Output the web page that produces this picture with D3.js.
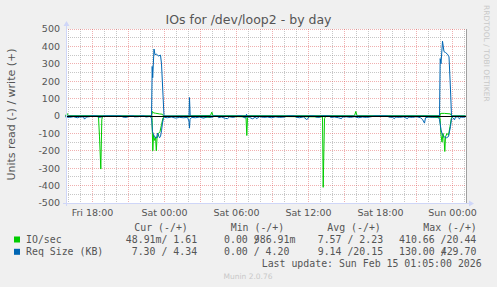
<!DOCTYPE html>
<html>
<head>
<meta charset="utf-8">
<script src="https://cdn.jsdelivr.net/npm/d3@7"></script>
<style>
    html, body { margin: 0; padding: 0; background: #f0f0f0; }
    svg { display: block; }
</style>
</head>
<body>
<div id="chart"></div>
<script>
// Times are 5-minute slots relative to Sat 00:00 (munin day graph: one slot per pixel)
const ioRead = [[-99,-2],[-70,-1],[-66,-5],[-65,-120],[-63.7,-305],[-62.7,-20],[-62,-3],[-40,-2],[-13,-3],
    [-12.5,-10],[-11.7,-200],[-11,-110],[-10,-140],[-9,-120],[-8.2,-200],[-7.5,-130],[-6,-100],[-4.5,-90],
    [-3,-50],[-1.5,-10],[0,-3],[25,-5],[26,-1],[46,-8],[47,-1],[81.5,-5],[82.3,-112],[83,-10],[84,-2],
    [158,-5],[158.7,-410],[160,-15],[161,-3],[260,-3],[275.5,-10],[276.5,-110],[277.5,-150],[278.5,-100],
    [279.5,-130],[280.3,-204],[281,-120],[282.5,-100],[284,-110],[285.5,-60],[287,-10],[288,-2],[301,-2]];

const ioWrite = [[-99,1],[-97.5,15],[-96,2],[-13,1],[-12,26],[-11,18],[-9,16],[-5,12],[-2,10],[-1,0],
    [46,3],[47.3,22],[48.5,2],[190,2],[191.3,26],[192.5,2],[275.5,2],[276,15],[280,15],[286,12],[287,1],[301,1.6]];

const reqRead = [[-99,-5],[-95,-8],[-91,-4],[-87,-10],[-85,-6],[-81,-5],[-80,-18],[-78,-6],[-75,-4],[-73,0],
    [-67,0],[-66,-8],[-63,-6],[-61,0],[-43,0],[-42,-6],[-38,-8],[-35,0],[-31,0],[-30,-5],[-26,-4],[-24,0],
    [-20,0],[-19,-6],[-15,-3],[-13,-10],[-12,-90],[-10,-120],[-8,-127],[-7,-98],[-5,-125],[-4,-118],[-3,-85],
    [-2,-40],[-1,-12],[0,-8],[3,-10],[7,-6],[11,-12],[15,-8],[19,-10],[23,-8],[24.5,-30],[25,-70],[25.5,-20],
    [27,-8],[31,-10],[35,-6],[39,-12],[43,-5],[47,-8],[49,-4],[50,0],[53,0],[54,-10],[57,-6],[61,-14],[63,-15],
    [65,-5],[69,-8],[73,0],[77,0],[78,-4],[81,-12],[82,-3],[85,-8],[88,-16],[91,-6],[92,-15],[95,-4],[99,-8],
    [103,-6],[107,-10],[111,-5],[115,-8],[120,-6],[123,0],[130,0],[131,-6],[135,-10],[139,-5],[142,-20],
    [143,-18],[145,0],[150,0],[151,-6],[155,-8],[157,0],[165,0],[166,-8],[170,-6],[174,-10],[177,-15],
    [178,-6],[182,-5],[186,-8],[190,-4],[194,-10],[198,-6],[202,-8],[206,-5],[210,0],[223,0],[224,-6],
    [228,-8],[230,-15],[231,-6],[235,-8],[239,-5],[243,-15],[244,-6],[248,-8],[252,-4],[256,-10],[258,-20],
    [260,-41],[261,-10],[264,-6],[268,-8],[272,-5],[274,-8],[275,-20],[276.5,-80],[278,-110],[280,-120],
    [282,-125],[284,-118],[286,-60],[287,-15],[288,-8],[290,-22],[291,-6],[293,-5],[295,-16],[296,-6],
    [299,-8],[301,-5]];

const reqWrite = [[-99,0],[-13,0],[-12.3,285],[-11.8,220],[-10.5,385],[-9.5,352],[-8,355],[-6,345],[-4,350],
    [-3,300],[-1.5,120],[-0.5,0],[24.5,0],[25,106],[25.7,0],[81.5,0],[82,10],[82.5,0],[275,0],[275.7,330],
    [276.5,300],[278,430],[279.5,370],[281,365],[283,355],[284.5,340],[286,150],[287,0],[301,0]];

const xTickSlots = [-72, 0, 72, 144, 216, 288];
const xTickLabels = ["Fri 18:00", "Sat 00:00", "Sat 06:00", "Sat 12:00", "Sat 18:00", "Sun 00:00"];
const yTicks = [500, 400, 300, 200, 100, 0, -100, -200, -300, -400, -500];

const legendNames = ["IO/sec", "Req Size (KB)"];
const legendHeaders = ["Cur (-/+)", "Min (-/+)", "Avg (-/+)", "Max (-/+)"];
// "|" marks where rrdtool printed the next number one cell back, over the slash
const legendCur = ["48.91m/ 1.61", "7.30 / 4.34"];
const legendMin = ["0.00 /|986.91m", "0.00 / 4.20"];
const legendAvg = ["7.57 / 2.23", "9.14 /20.15"];
const legendMax = ["410.66 /20.44", "130.00 /|429.70"];

const GREEN = "#00cc00", BLUE = "#0066b3";
const W = 497, H = 287;
const plotLeft = 66, plotTop = 29, plotW = 400, plotH = 174;

const svg = d3.select("#chart").append("svg")
    .attr("width", W).attr("height", H)
    .style("font-family", "'DejaVu Sans', sans-serif");

svg.append("rect").attr("width", W).attr("height", H).attr("fill", "#f0f0f0");
svg.append("rect").attr("x", plotLeft).attr("y", plotTop).attr("width", plotW).attr("height", plotH).attr("fill", "#fff");

const x = d3.scaleLinear().domain([-98.5, 301.5]).range([plotLeft, plotLeft + plotW]);
const y = d3.scaleLinear().domain([-500, 500]).range([plotTop + plotH, plotTop]);
const px = v => Math.floor(x(v)) + 0.5;
const py = v => Math.floor(y(v)) + 0.5;

// grid: minor every hour / 50 units, major every 3 hours / 100 units
const hourSlots = d3.range(-96, 302, 12);
const grid = svg.append("g").attr("stroke-dasharray", "1,1").attr("shape-rendering", "crispEdges");
grid.selectAll(".vmin").data(hourSlots.filter(s => s % 36 !== 0)).enter().append("line")
    .attr("x1", px).attr("x2", px).attr("y1", plotTop).attr("y2", plotTop + plotH)
    .attr("stroke", "rgba(143,143,143,0.5)");
grid.selectAll(".hmin").data(d3.range(-450, 500, 100)).enter().append("line")
    .attr("x1", plotLeft).attr("x2", plotLeft + plotW).attr("y1", py).attr("y2", py)
    .attr("stroke", "rgba(143,143,143,0.5)");
grid.selectAll(".vmaj").data(hourSlots.filter(s => s % 36 === 0)).enter().append("line")
    .attr("x1", px).attr("x2", px).attr("y1", plotTop).attr("y2", plotTop + plotH)
    .attr("stroke", "rgba(222,79,79,0.45)");
grid.selectAll(".hmaj").data(yTicks).enter().append("line")
    .attr("x1", plotLeft).attr("x2", plotLeft + plotW).attr("y1", py).attr("y2", py)
    .attr("stroke", "rgba(222,79,79,0.45)");

// data lines
const line = d3.line().x(d => x(d[0])).y(d => y(d[1]));
[[ioRead, GREEN], [ioWrite, GREEN], [reqRead, BLUE], [reqWrite, BLUE]].forEach(([data, color]) => {
    svg.append("path").datum(data)
        .attr("d", line)
        .attr("fill", "none")
        .attr("stroke", color)
        .attr("stroke-width", 1);
});

// zero line
svg.append("line").attr("x1", plotLeft).attr("x2", plotLeft + plotW).attr("y1", py(0)).attr("y2", py(0))
    .attr("stroke", "#000").attr("shape-rendering", "crispEdges");

// axes and arrows
const axisColor = "#cfd6f8";
svg.append("line").attr("x1", plotLeft + 0.5).attr("x2", plotLeft + 0.5).attr("y1", plotTop + plotH + 3).attr("y2", plotTop - 3)
    .attr("stroke", axisColor).attr("shape-rendering", "crispEdges");
svg.append("line").attr("x1", plotLeft - 3).attr("x2", plotLeft + plotW + 3).attr("y1", plotTop + plotH + 0.5).attr("y2", plotTop + plotH + 0.5)
    .attr("stroke", axisColor).attr("shape-rendering", "crispEdges");
svg.append("path").attr("d", `M${plotLeft - 2.5},${plotTop - 3}L${plotLeft + 3.5},${plotTop - 3}L${plotLeft + 0.5},${plotTop - 8}Z`).attr("fill", axisColor);
svg.append("path").attr("d", `M${plotLeft + plotW + 3},${plotTop + plotH - 2.5}L${plotLeft + plotW + 3},${plotTop + plotH + 3.5}L${plotLeft + plotW + 8},${plotTop + plotH + 0.5}Z`).attr("fill", axisColor);
svg.append("line").attr("x1", plotLeft + plotW + 0.5).attr("x2", plotLeft + plotW + 0.5).attr("y1", plotTop).attr("y2", plotTop + plotH)
    .attr("stroke", "#a0a0a0").attr("shape-rendering", "crispEdges");

// tick labels
svg.append("g").selectAll("text").data(yTicks).enter().append("text")
    .attr("x", 60).attr("y", d => y(d) + 3.4)
    .attr("text-anchor", "end").attr("font-size", "9.5px").attr("fill", "#555")
    .text(d => d);
svg.append("g").selectAll("text").data(xTickSlots).enter().append("text")
    .attr("x", d => x(d)).attr("y", 216)
    .attr("text-anchor", "middle").attr("font-size", "9.5px").attr("fill", "#555")
    .text((d, i) => xTickLabels[i]);

// titles
svg.append("text").attr("x", 248.5).attr("y", 24).attr("text-anchor", "middle")
    .attr("font-size", "12.5px").attr("fill", "#555").text("IOs for /dev/loop2 - by day");
svg.append("text").attr("transform", "translate(15,114.5) rotate(-90)").attr("text-anchor", "middle")
    .attr("font-size", "11px").attr("fill", "#555").text("Units read (-) / write (+)");
svg.append("text").attr("transform", "translate(483.5,5) rotate(90)")
    .attr("font-size", "7.5px").attr("fill", "#c8c8c8").text("RRDTOOL / TOBI OETIKER");

// legend
const cw = 5.96;
const mono = svg.append("g").style("font-family", "'DejaVu Sans Mono', monospace")
    .attr("font-size", "9.9px").attr("fill", "#555");
function cell(str, x0, yb) {
    const parts = str.split("|");
    mono.append("text").attr("x", x0).attr("y", yb).attr("xml:space", "preserve").text(parts[0]);
    if (parts[1]) {
        mono.append("text").attr("x", x0 + (parts[0].length - 1) * cw).attr("y", yb)
            .attr("xml:space", "preserve").text(parts[1]);
    }
}
[134.3, 230.7, 327.3, 423.3].forEach((hx, i) => cell(legendHeaders[i], hx, 231));
const rowY = [243, 255.3];
const colors = [GREEN, BLUE];
legendNames.forEach((name, i) => {
    svg.append("rect").attr("x", 14).attr("y", rowY[i] - 6.5).attr("width", 6).attr("height", 6).attr("fill", colors[i]);
    cell(name, 26, rowY[i]);
});
cell(legendCur[0], 125.8, rowY[0]);
cell(legendCur[1], 131.7, rowY[1]);
legendMin.forEach((s, i) => cell(s, 224, rowY[i]));
legendAvg.forEach((s, i) => cell(s, 317.7, rowY[i]));
legendMax.forEach((s, i) => cell(s, 399, rowY[i]));
cell("Last update: Sun Feb 15 01:05:00 2026", 261.7, 267);

svg.append("text").attr("x", 248).attr("y", 278.7).attr("text-anchor", "middle")
    .attr("font-size", "7.5px").attr("fill", "#c8c8c8").text("Munin 2.0.76");
</script>
</body>
</html>
